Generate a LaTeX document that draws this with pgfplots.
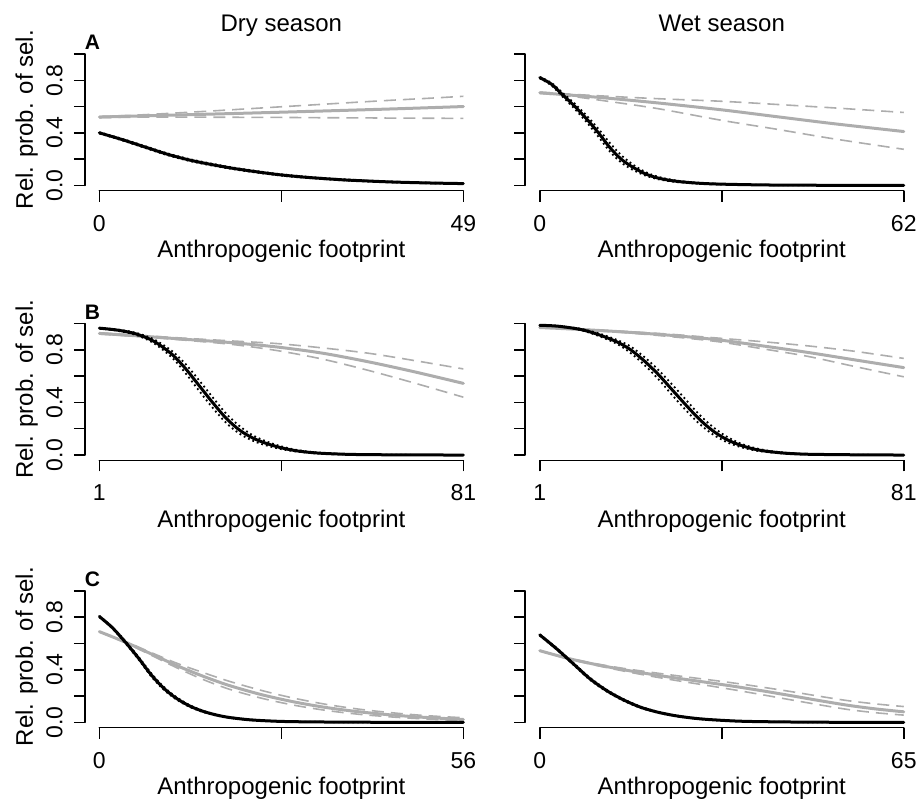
\documentclass[border=0pt]{standalone}
\usepackage{fontspec}
\setmainfont{Liberation Sans}
\usepackage{pgfplots}
\pgfplotsset{compat=1.18}
\definecolor{grayc}{HTML}{ADADAD}
\newcommand\labfont{\fontsize{24}{28}\selectfont}
\newcommand\tickfont{\fontsize{23}{27}\selectfont}
\newcommand\axlines{%
  \draw[line width=1.5pt,line cap=round] (axis description cs:0.037037,0) -- (axis description cs:0.962963,0);
  \draw[line width=1.5pt,line cap=round] (axis description cs:0,0.037037) -- (axis description cs:0,0.962963);}
\newcommand\panellet[1]{\node[anchor=west,inner sep=0pt,font=\fontsize{21}{24}\selectfont\bfseries] at (axis description cs:0,1.044) {#1};}
\pgfplotsset{
  panel/.style={scale only axis, width=393.1pt, height=142pt, anchor=south west,
    ymin=0, ymax=1, enlarge x limits=0.04, enlarge y limits=0.04,
    axis line style={draw=none}, tick pos=left, tick align=outside,
    major tick length=11pt, every tick/.style={black, line width=1.5pt},
    ytick={0,0.2,0.4,0.6,0.8,1}, yticklabels={0.0,{},0.4,{},0.8,{}},
    tick label style={font=\tickfont},
    yticklabel style={inner sep=0pt, xshift=-11pt, rotate=90, anchor=south},
    xticklabel style={inner sep=0pt, anchor=base, yshift=-29.5pt},
    clip=false, xlabel={Anthropogenic footprint},
    every axis x label/.style={at={(axis description cs:0.5,-0.4718)}, anchor=base, font=\labfont},
    every axis y label/.style={at={(axis description cs:-0.1318,0.5)}, rotate=90, anchor=base, font=\labfont},
    every axis title/.style={at={(axis description cs:0.5,1)}, anchor=base, yshift=17pt, font=\labfont},
  },
  blk/.style={black, line width=3pt, smooth, no markers, line cap=round},
  blkci/.style={black, line width=1.8pt, smooth, no markers, dash pattern=on 1.8pt off 3pt},
  gry/.style={grayc, line width=3pt, smooth, no markers, line cap=round},
  gryci/.style={grayc, line width=1.6pt, smooth, no markers, dash pattern=on 12pt off 7pt},
}
\begin{document}
\begin{tikzpicture}
\useasboundingbox (0,0) rectangle (917pt,807pt);
% ---------------- A dry
\begin{axis}[panel, at={(84.8pt,616.3pt)}, xmin=0, xmax=49, xtick={0,24.5,49}, xticklabels={0,{},49},
  title={Dry season}, ylabel={Rel. prob. of sel.}]
\axlines
\addplot[gryci] coordinates {(0,0.525)(5,0.535)(10,0.55)(15,0.566)(20,0.583)(25,0.60)(30,0.617)(35,0.634)(40,0.65)(45,0.665)(49,0.678)};
\addplot[gryci] coordinates {(0,0.515)(5,0.519)(10,0.52)(15,0.519)(20,0.518)(25,0.517)(30,0.515)(35,0.514)(40,0.512)(45,0.511)(49,0.51)};
\addplot[gry] coordinates {(0,0.52)(10,0.535)(20,0.55)(30,0.566)(40,0.583)(49,0.60)};
\addplot[blkci] coordinates {(0,0.405)(3,0.356)(6,0.302)(9,0.247)(12,0.202)(15,0.167)(18,0.136)(21,0.111)(24,0.088)(27,0.071)(30,0.057)(33,0.046)(36,0.037)(39,0.030)(42,0.024)(45,0.020)(49,0.016)};
\addplot[blkci] coordinates {(0,0.395)(3,0.344)(6,0.288)(9,0.233)(12,0.188)(15,0.153)(18,0.124)(21,0.099)(24,0.078)(27,0.061)(30,0.049)(33,0.038)(36,0.031)(39,0.024)(42,0.020)(45,0.016)(49,0.012)};
\addplot[blk] coordinates {(0,0.40)(3,0.35)(6,0.295)(9,0.24)(12,0.195)(15,0.16)(18,0.13)(21,0.105)(24,0.083)(27,0.066)(30,0.053)(33,0.042)(36,0.034)(39,0.027)(42,0.022)(45,0.018)(49,0.014)};
\panellet{A}
\end{axis}
% ---------------- A wet
\begin{axis}[panel, at={(525.2pt,616.3pt)}, xmin=0, xmax=62, xtick={0,31,62}, xticklabels={0,{},62},
  yticklabels={}, title={Wet season}]
\axlines
\addplot[gryci] coordinates {(0,0.71)(5,0.695)(10,0.682)(20,0.66)(31,0.64)(40,0.617)(50,0.59)(62,0.555)};
\addplot[gryci] coordinates {(0,0.70)(5,0.68)(10,0.65)(20,0.585)(31,0.495)(40,0.43)(50,0.355)(62,0.275)};
\addplot[gry] coordinates {(0,0.705)(10,0.67)(20,0.628)(31,0.575)(40,0.525)(50,0.47)(62,0.41)};
\addplot[blkci] coordinates {(0,0.825)(2,0.78)(4,0.70)(6,0.62)(8,0.53)(10,0.43)(12,0.32)(14,0.225)(16,0.155)(18,0.102)(20,0.068)(22,0.047)(24,0.033)(27,0.02)(30,0.013)(35,0.007)(40,0.004)(50,0.001)(62,0.0)};
\addplot[blkci] coordinates {(0,0.815)(2,0.76)(4,0.67)(6,0.58)(8,0.48)(10,0.37)(12,0.255)(14,0.17)(16,0.115)(18,0.075)(20,0.049)(22,0.033)(24,0.023)(27,0.014)(30,0.009)(35,0.005)(40,0.002)(50,0.001)(62,0.0)};
\addplot[blk] coordinates {(0,0.82)(2,0.77)(4,0.685)(6,0.60)(8,0.505)(10,0.40)(12,0.285)(14,0.195)(16,0.135)(18,0.088)(20,0.058)(22,0.04)(24,0.028)(27,0.017)(30,0.011)(35,0.006)(40,0.003)(50,0.001)(62,0.0)};
\end{axis}
% ---------------- B dry
\begin{axis}[panel, at={(84.8pt,346.7pt)}, xmin=1, xmax=81, xtick={1,41,81}, xticklabels={1,{},81},
  ylabel={Rel. prob. of sel.}]
\axlines
\addplot[gryci] coordinates {(1,0.93)(10,0.91)(20,0.888)(30,0.868)(40,0.848)(50,0.815)(60,0.775)(70,0.72)(81,0.655)};
\addplot[gryci] coordinates {(1,0.92)(10,0.90)(20,0.873)(30,0.842)(40,0.795)(50,0.73)(60,0.645)(70,0.55)(81,0.44)};
\addplot[gry] coordinates {(1,0.925)(10,0.905)(20,0.88)(30,0.855)(40,0.822)(50,0.775)(60,0.71)(70,0.635)(81,0.545)};
\addplot[blkci] coordinates {(1,0.967)(5,0.955)(9,0.93)(13,0.88)(17,0.79)(20,0.69)(23,0.565)(26,0.435)(29,0.31)(32,0.215)(35,0.145)(38,0.1)(41,0.066)(44,0.041)(47,0.026)(50,0.016)(55,0.008)(60,0.004)(70,0.001)(81,0.0)};
\addplot[blkci] coordinates {(1,0.963)(5,0.945)(9,0.914)(13,0.85)(17,0.74)(20,0.62)(23,0.485)(26,0.355)(29,0.24)(32,0.158)(35,0.105)(38,0.07)(41,0.045)(44,0.028)(47,0.017)(50,0.01)(55,0.004)(60,0.002)(70,0.001)(81,0.0)};
\addplot[blk] coordinates {(1,0.965)(5,0.95)(9,0.922)(13,0.865)(17,0.765)(20,0.655)(23,0.525)(26,0.395)(29,0.275)(32,0.185)(35,0.125)(38,0.085)(41,0.055)(44,0.034)(47,0.021)(50,0.013)(55,0.006)(60,0.003)(70,0.001)(81,0.0)};
\panellet{B}
\end{axis}
% ---------------- B wet
\begin{axis}[panel, at={(525.2pt,346.7pt)}, xmin=1, xmax=81, xtick={1,41,81}, xticklabels={1,{},81},
  yticklabels={}]
\axlines
\addplot[gryci] coordinates {(1,0.972)(10,0.958)(20,0.94)(30,0.918)(40,0.89)(50,0.862)(60,0.83)(70,0.79)(81,0.735)};
\addplot[gryci] coordinates {(1,0.968)(10,0.952)(20,0.93)(30,0.9)(40,0.863)(50,0.808)(60,0.75)(70,0.675)(81,0.595)};
\addplot[gry] coordinates {(1,0.97)(10,0.955)(20,0.935)(30,0.91)(40,0.877)(50,0.83)(60,0.78)(70,0.725)(81,0.665)};
\addplot[blkci] coordinates {(1,0.988)(5,0.982)(10,0.96)(14,0.925)(18,0.875)(21,0.825)(24,0.745)(27,0.65)(30,0.54)(33,0.425)(36,0.31)(39,0.215)(42,0.142)(45,0.09)(48,0.056)(51,0.034)(55,0.018)(60,0.008)(70,0.002)(81,0.0)};
\addplot[blkci] coordinates {(1,0.986)(5,0.978)(10,0.95)(14,0.905)(18,0.845)(21,0.775)(24,0.685)(27,0.58)(30,0.46)(33,0.345)(36,0.24)(39,0.158)(42,0.1)(45,0.062)(48,0.037)(51,0.022)(55,0.011)(60,0.005)(70,0.001)(81,0.0)};
\addplot[blk] coordinates {(1,0.987)(5,0.98)(10,0.955)(14,0.915)(18,0.86)(21,0.80)(24,0.715)(27,0.615)(30,0.50)(33,0.385)(36,0.275)(39,0.185)(42,0.12)(45,0.076)(48,0.046)(51,0.028)(55,0.014)(60,0.006)(70,0.002)(81,0.0)};
\end{axis}
% ---------------- C dry
\begin{axis}[panel, at={(84.8pt,79.4pt)}, xmin=0, xmax=56, xtick={0,28,56}, xticklabels={0,{},56},
  ylabel={Rel. prob. of sel.}]
\axlines
\addplot[gryci] coordinates {(0,0.69)(4,0.615)(8,0.53)(12,0.448)(16,0.378)(20,0.312)(25,0.242)(30,0.183)(35,0.136)(40,0.1)(45,0.073)(50,0.052)(56,0.035)};
\addplot[gryci] coordinates {(0,0.688)(4,0.605)(8,0.51)(12,0.413)(16,0.325)(20,0.252)(25,0.183)(30,0.13)(35,0.09)(40,0.061)(45,0.041)(50,0.026)(56,0.013)};
\addplot[gry] coordinates {(0,0.69)(4,0.61)(8,0.52)(12,0.43)(16,0.35)(20,0.28)(25,0.21)(30,0.155)(35,0.112)(40,0.08)(45,0.056)(50,0.038)(56,0.022)};
\addplot[blkci] coordinates {(0,0.81)(2,0.725)(4,0.618)(6,0.5)(8,0.372)(10,0.266)(12,0.187)(14,0.129)(16,0.088)(18,0.06)(20,0.04)(23,0.022)(26,0.012)(30,0.006)(40,0.001)(56,0.0)};
\addplot[blkci] coordinates {(0,0.80)(2,0.715)(4,0.602)(6,0.48)(8,0.348)(10,0.244)(12,0.169)(14,0.115)(16,0.078)(18,0.052)(20,0.034)(23,0.018)(26,0.01)(30,0.004)(40,0.001)(56,0.0)};
\addplot[blk] coordinates {(0,0.805)(2,0.72)(4,0.61)(6,0.49)(8,0.36)(10,0.255)(12,0.178)(14,0.122)(16,0.083)(18,0.056)(20,0.037)(23,0.02)(26,0.011)(30,0.005)(40,0.001)(56,0.0)};
\panellet{C}
\end{axis}
% ---------------- C wet
\begin{axis}[panel, at={(525.2pt,79.4pt)}, xmin=0, xmax=65, xtick={0,32.5,65}, xticklabels={0,{},65},
  yticklabels={}]
\axlines
\addplot[gryci] coordinates {(0,0.546)(5,0.49)(10,0.446)(15,0.41)(20,0.38)(25,0.352)(30,0.325)(35,0.297)(40,0.266)(45,0.233)(50,0.198)(55,0.165)(60,0.14)(65,0.12)};
\addplot[gryci] coordinates {(0,0.544)(5,0.484)(10,0.434)(15,0.39)(20,0.35)(25,0.314)(30,0.28)(35,0.245)(40,0.208)(45,0.17)(50,0.133)(55,0.098)(60,0.073)(65,0.055)};
\addplot[gry] coordinates {(0,0.545)(5,0.487)(10,0.44)(15,0.40)(20,0.365)(25,0.333)(30,0.303)(35,0.272)(40,0.238)(45,0.202)(50,0.165)(55,0.13)(60,0.102)(65,0.08)};
\addplot[blkci] coordinates {(0,0.67)(3,0.566)(6,0.452)(9,0.338)(12,0.247)(15,0.176)(18,0.12)(21,0.082)(24,0.055)(27,0.036)(30,0.024)(35,0.011)(40,0.006)(50,0.001)(65,0.0)};
\addplot[blkci] coordinates {(0,0.66)(3,0.554)(6,0.438)(9,0.322)(12,0.233)(15,0.164)(18,0.11)(21,0.074)(24,0.049)(27,0.032)(30,0.02)(35,0.009)(40,0.004)(50,0.001)(65,0.0)};
\addplot[blk] coordinates {(0,0.665)(3,0.56)(6,0.445)(9,0.33)(12,0.24)(15,0.17)(18,0.115)(21,0.078)(24,0.052)(27,0.034)(30,0.022)(35,0.01)(40,0.005)(50,0.001)(65,0.0)};
\end{axis}
\end{tikzpicture}
\end{document}
